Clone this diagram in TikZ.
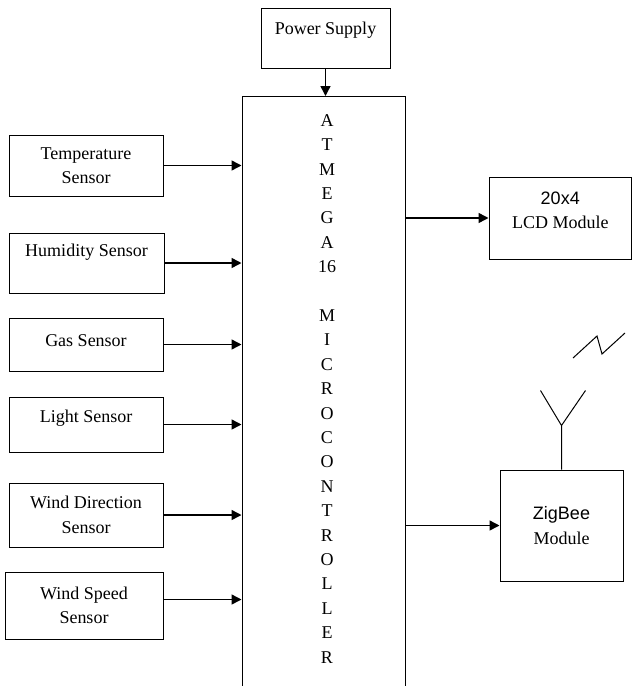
\documentclass[tikz,border=0pt]{standalone}
\usepackage{fontspec}
\setmainfont{Liberation Serif}
\setsansfont{Liberation Sans}
\usetikzlibrary{positioning,arrows.meta}

\tikzset{
 block/.style={draw, line width=1pt, inner sep=0pt},
 lift/.style={text depth=#1},
 link/.style={->, line width=1.5pt},
}

\begin{document}
\begin{tikzpicture}[x=1pt, y=-1pt, line width=1pt,
 font=\fontsize{18}{24.4}\selectfont,
 >={Triangle[length=10pt,width=10pt]}]
 \useasboundingbox (0,0) rectangle (632,686);
 \clip (0,0) rectangle (632,686);
 \node[block, minimum width=129pt, minimum height=60pt, lift=20pt]
 (pwr) at (325.5,38) {Power Supply};
 \node[block, minimum width=163pt, minimum height=620pt, anchor=north]
 (mcu) at (323.5,96) {};
 \node[inner sep=0pt, align=center, anchor=north] (mcutext) at (327,114)
 {A\\T\\M\\E\\G\\A\\16\\[24.4pt]M\\I\\C\\R\\O\\C\\O\\N\\T\\R\\O\\L\\L\\E\\R};
 \node[block, minimum width=154pt, minimum height=61pt, align=center]
 (temp) at (86,165.5) {Temperature\\Sensor};
 \node[block, minimum width=155pt, minimum height=60pt, lift=26pt]
 (hum) at (86.5,263) {Humidity Sensor};
 \node[block, minimum width=154pt, minimum height=53pt, lift=7pt]
 (gas) at (86,344.5) {Gas Sensor};
 \node[block, minimum width=154pt, minimum height=55pt, lift=17pt]
 (light) at (86,424.5) {Light Sensor};
 \node[block, minimum width=154pt, minimum height=64pt, align=center]
 (wdir) at (86,515) {Wind Direction\\Sensor};
 \node[block, minimum width=158pt, minimum height=67pt, align=center]
 (wspd) at (84,605.5) {Wind Speed\\Sensor};
 \node[block, minimum width=142.5pt, minimum height=82pt, align=center]
 (lcd) at (560.25,218) {{\sffamily 20x4}\\LCD Module\rule[-16pt]{0pt}{0pt}};
 \node[block, minimum width=123pt, minimum height=111pt, align=center]
 (zig) at (561.5,525.5) {{\sffamily ZigBee}\\Module};
 \coordinate (ant) at ([yshift=44pt]zig.north);
 \draw (zig.north) -- (ant) -- +(-21,-35) (ant) -- +(24,-35);
 \draw (573,358) -- (597,336) -- (602,354) -- (625,333);
 \draw[link] (pwr.south) -- (pwr.south |- mcu.north);
 \foreach \s in {temp,hum,gas,light,wdir}
 \draw[link] (\s.east) -- (\s.east -| mcu.west);
 \draw[link] ([yshift=6pt]wspd.east) -- ([yshift=6pt]wspd.east -| mcu.west);
 \draw[link] (mcu.east |- lcd.west) -- (lcd.west);
 \draw[link] (mcu.east |- zig.west) -- (zig.west);
\end{tikzpicture}
\end{document}
